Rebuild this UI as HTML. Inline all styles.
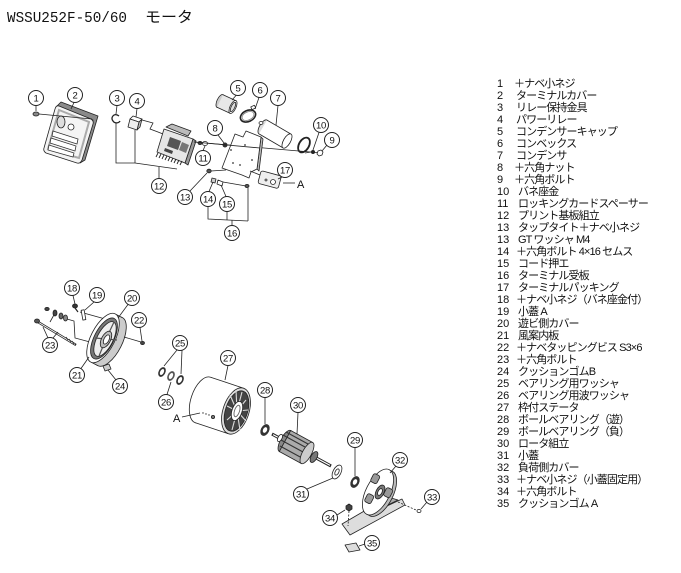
<!DOCTYPE html>
<html><head><meta charset="utf-8">
<style>
html,body{margin:0;padding:0;background:#fff;}
svg{display:block;}
.c circle{fill:#fff;stroke:#222;stroke-width:1;}
.c text{font-family:"Liberation Sans",sans-serif;font-size:9.5px;text-anchor:middle;fill:#111;letter-spacing:-0.3px;}
.l{stroke:#222;stroke-width:0.8;fill:none;}
.p{stroke:#222;stroke-width:0.8;stroke-linejoin:round;}
.list text{font-family:"Liberation Sans","Noto Sans CJK JP",sans-serif;font-size:11px;fill:#111;letter-spacing:-0.9px;}
.list text.n{letter-spacing:0;}
</style></head><body>
<svg width="681" height="573" viewBox="0 0 681 573" xmlns="http://www.w3.org/2000/svg">
<rect width="681" height="573" fill="#fff"/>
<text x="7" y="22" font-family="Liberation Mono, monospace" font-size="15" textLength="120" lengthAdjust="spacingAndGlyphs" fill="#111">WSSU252F-50/60</text>
<text x="145" y="22" font-family="Liberation Sans, 'Noto Sans CJK JP', sans-serif" font-size="15" textLength="48" lengthAdjust="spacingAndGlyphs" fill="#111">モータ</text>

<polygon class="p" points="57,106 61,102 98,116 85,160 80,163 93,120" fill="#8a8a8a"/>
<path class="p" d="M59,106 L91,119 Q94,121 93,124 L82,160 Q80,164 77,163 L46,153 Q43,151 44,148 L55,109 Q56,105 59,106 Z" fill="#f4f4f4" stroke-width="1.1"/>
<polygon points="59,110 89,122 79,158 48,149" stroke="#aaa" stroke-width="2" fill="none"/>
<ellipse class="p" cx="61" cy="122" rx="4" ry="6" fill="#ddd"/>
<circle class="p" cx="71" cy="127" r="3" fill="#fff"/>
<g stroke="#333" stroke-width="0.8" fill="#fff">
<polygon points="53,131 78,139 77,144 52,136"/>
<polygon points="51,138 76,146 75,151 50,143"/>
<polygon points="49,145 74,153 73,157 48,150"/>
</g>
<line class="l" x1="39" y1="114" x2="92" y2="119"/>
<ellipse class="p" cx="36" cy="114" rx="3" ry="2" fill="#888"/>
<path d="M119,116 C114,112 110,118 113,121 C115,124 119,123 120,121" stroke="#222" stroke-width="1.3" fill="none"/>
<polygon class="p" points="130,119 133,116 142,119 139,122" fill="#fff"/>
<polygon class="p" points="139,122 142,119 140,127 137,130" fill="#bbb"/>
<polygon class="p" points="130,119 139,122 137,130 128,127" fill="#eee"/>
<polyline class="l" points="142,120 153,123 150,129 158,132 163,134"/>
<polygon class="p" points="193,139 196,141 188,165 185,163" fill="#999"/>
<polygon class="p" points="164,129 193,139 185,163 157,152" fill="#e6e6e6"/>
<polygon class="p" points="166,127 172,124 191,131 188,136" fill="#bbb"/>
<polygon points="170,137 181,141 178,150 167,146" fill="#555"/>
<polygon points="182,142 189,145 186,153 179,150" fill="#777"/>
<polygon points="165,148 173,151 172,154 164,151" fill="#444"/>
<g stroke="#222" stroke-width="0.9">
<line x1="158" y1="153" x2="156" y2="157"/><line x1="161" y1="154" x2="159" y2="158"/>
<line x1="164" y1="155" x2="162" y2="159"/><line x1="167" y1="156" x2="165" y2="160"/>
<line x1="170" y1="157" x2="168" y2="161"/><line x1="173" y1="158" x2="171" y2="162"/>
<line x1="176" y1="159" x2="174" y2="163"/><line x1="179" y1="160" x2="177" y2="164"/>
<line x1="182" y1="161" x2="180" y2="165"/>
</g>
<polyline class="l" points="116,123 116,163 135,163 177,169"/>
<line class="l" x1="135" y1="130" x2="135" y2="163"/>
<line class="l" x1="159" y1="167" x2="159" y2="178"/>

<line class="l" x1="194" y1="142" x2="322" y2="153"/>
<ellipse class="p" cx="200" cy="143" rx="2" ry="1.6" fill="#444"/>
<ellipse class="p" cx="205" cy="143.5" rx="2.5" ry="2" fill="#fff"/>
<circle cx="225" cy="145" r="2.5" fill="#333"/>

<polygon class="p" points="261,137 263,139 259,171 257,169" fill="#bbb"/>
<path class="p" d="M235,134 L243,137 L246,131 L261,137 L257,169 L251,172 L249,178 L242,175 L222,168 Z" fill="#fff"/>
<line class="l" x1="194" y1="142" x2="260" y2="148"/>
<g fill="#333"><circle cx="231" cy="150" r="0.9"/><circle cx="245" cy="145" r="0.9"/><circle cx="240" cy="165" r="0.9"/><circle cx="233" cy="163" r="0.9"/><circle cx="252" cy="160" r="0.9"/></g>
<line class="l" x1="211" y1="171" x2="226" y2="170"/>
<ellipse class="p" cx="209" cy="171" rx="2.2" ry="1.8" fill="#555"/>
<path class="p" d="M212,178 l4,1 l-1,4 l-4,-1 Z" fill="#ccc"/>
<path class="p" d="M218,180 l5,2 l-1,4 l-5,-2 Z" fill="#fff"/>
<line class="l" x1="223" y1="182" x2="246" y2="186"/>
<ellipse class="p" cx="247" cy="186" rx="2" ry="1.6" fill="#555"/>
<polyline class="l" points="208,206 208,219 248,221"/>
<line class="l" x1="227" y1="211" x2="227" y2="220"/>
<line class="l" x1="248" y1="188" x2="248" y2="221"/>
<line class="l" x1="232" y1="220" x2="232" y2="225"/>

<ellipse class="p" cx="220" cy="101" rx="3" ry="7" transform="rotate(25 220 101)" fill="#ccc"/>
<polygon points="217,107.3 230,113.3 236,100.7 223,94.7" fill="#e8e8e8"/>
<line class="l" x1="217" y1="107.3" x2="230" y2="113.3"/><line class="l" x1="223" y1="94.7" x2="236" y2="100.7"/>
<ellipse class="p" cx="233" cy="107" rx="3" ry="7" transform="rotate(25 233 107)" fill="#fff"/>
<ellipse class="p" cx="233" cy="107" rx="1.8" ry="5.2" transform="rotate(25 233 107)" fill="#ddd"/>
<ellipse cx="248" cy="116" rx="8" ry="5.5" transform="rotate(-25 248 116)" fill="none" stroke="#222" stroke-width="1.6"/>
<ellipse cx="248" cy="116" rx="6.3" ry="4" transform="rotate(-25 248 116)" fill="none" stroke="#777" stroke-width="0.7"/>
<rect class="p" x="251" y="106" width="4" height="3" fill="#fff" transform="rotate(-25 253 107)"/>
<ellipse class="p" cx="263" cy="127" rx="3.5" ry="8" transform="rotate(30 263 127)" fill="#ddd"/>
<polygon points="259,133.9 283,147.9 291,134.1 267,120.1" fill="#fff"/>
<line class="l" x1="259" y1="133.9" x2="283" y2="147.9"/><line class="l" x1="267" y1="120.1" x2="291" y2="134.1"/>
<ellipse class="p" cx="287" cy="141" rx="3.5" ry="8" transform="rotate(30 287 141)" fill="#fff"/>
<ellipse class="p" cx="261" cy="123" rx="2" ry="1.5" fill="#fff"/>
<ellipse cx="304" cy="145" rx="5" ry="8" transform="rotate(30 304 145)" fill="none" stroke="#222" stroke-width="1.8"/>
<line class="l" x1="305" y1="153" x2="311" y2="152"/>
<circle cx="313" cy="152" r="2" fill="#222"/>
<polygon class="p" points="318,151 321,150 323,152 322,155 319,156 317,154" fill="#fff"/>
<line class="l" x1="250" y1="171" x2="260" y2="175"/>
<rect class="p" x="259" y="173" width="21" height="13" rx="2" transform="rotate(15 269 180)" fill="#eee"/>
<circle class="p" cx="266" cy="180" r="1" fill="#fff"/>
<circle class="p" cx="273" cy="182" r="2.5" fill="#fff"/>
<line class="l" x1="283" y1="183" x2="295" y2="183"/>
<text x="297" y="188" font-family="Liberation Sans, sans-serif" font-size="11" fill="#111">A</text>

<g class="l">
<line x1="36" y1="105.5" x2="36" y2="111"/>
<line x1="74" y1="102.5" x2="71" y2="109"/>
<line x1="117" y1="105.5" x2="116" y2="114"/>
<line x1="137" y1="108.5" x2="136" y2="117"/>
<line x1="236" y1="95.5" x2="232" y2="100"/>
<line x1="259" y1="97.5" x2="255" y2="109"/>
<line x1="278" y1="105.5" x2="276" y2="125"/>
<line x1="218" y1="135" x2="224" y2="143"/>
<line x1="203" y1="150.5" x2="205" y2="146"/>
<line x1="319" y1="132.5" x2="313" y2="150"/>
<line x1="327" y1="145" x2="322" y2="151"/>
<line x1="282" y1="177" x2="278" y2="179"/>
<line x1="190" y1="191" x2="207" y2="173"/>
<line x1="209" y1="191.5" x2="213" y2="182"/>
<line x1="226" y1="196.5" x2="221" y2="185"/>
</g>

<line x1="38" y1="322" x2="76" y2="345" stroke="#222" stroke-width="2.4"/>
<line x1="39" y1="322.6" x2="75" y2="344.4" stroke="#fff" stroke-width="0.8"/>
<g stroke="#222" stroke-width="0.7"><line x1="66" y1="337" x2="68" y2="340"/><line x1="69" y1="339" x2="71" y2="342"/><line x1="72" y1="341" x2="74" y2="344"/></g>
<ellipse class="p" cx="37" cy="321" rx="2.5" ry="2" fill="#555"/>
<ellipse class="p" cx="47" cy="309" rx="2.2" ry="1.6" fill="#444"/>
<line class="l" x1="55" y1="313" x2="50" y2="322"/>
<ellipse class="p" cx="55" cy="313" rx="2" ry="3" fill="#444"/>
<ellipse class="p" cx="61" cy="316" rx="2" ry="3" fill="#666"/>
<ellipse class="p" cx="65.5" cy="318" rx="2" ry="3" fill="#888"/>
<polyline class="l" points="67,319 74,321 75,338 90,342"/>
<line class="l" x1="80" y1="312" x2="116" y2="322"/>
<ellipse class="p" cx="75" cy="306" rx="2.5" ry="2" fill="#333"/>
<line x1="75" y1="308" x2="78" y2="312" stroke="#222" stroke-width="1.2"/>
<rect class="p" x="82" y="310" width="3" height="10" fill="#fff" transform="rotate(-10 83 315)"/>
<ellipse class="p" cx="110" cy="341.6" rx="12" ry="27" transform="rotate(27 110 341.6)" fill="#ccc"/>
<polygon points="115.2,314 122.2,317.6 97.8,365.6 90.8,362" fill="#ccc" stroke="none"/>
<line class="l" x1="115.2" y1="314" x2="122.2" y2="317.6"/>
<line class="l" x1="90.8" y1="362" x2="97.8" y2="365.6"/>
<ellipse class="p" cx="103" cy="338" rx="12" ry="27" transform="rotate(27 103 338)" fill="#fff"/>
<ellipse class="p" cx="104" cy="338.5" rx="9.8" ry="22.5" transform="rotate(27 104 338.5)" fill="#777"/>
<ellipse class="p" cx="105" cy="339" rx="8" ry="19" transform="rotate(27 105 339)" fill="#eee"/>
<g stroke="#555" stroke-width="1.2">
<line x1="106" y1="339" x2="114" y2="322"/><line x1="106" y1="339" x2="117" y2="340"/>
<line x1="106" y1="339" x2="99" y2="356"/><line x1="106" y1="339" x2="95" y2="338"/>
</g>
<ellipse class="p" cx="106" cy="339.5" rx="4.5" ry="9" transform="rotate(27 106 339.5)" fill="#bbb"/>
<ellipse class="p" cx="106.5" cy="339.5" rx="2.5" ry="5" transform="rotate(27 106.5 339.5)" fill="#fff"/>
<line class="l" x1="124" y1="337" x2="141" y2="342"/>
<ellipse class="p" cx="142.5" cy="343" rx="2" ry="1.6" fill="#444"/>
<polygon class="p" points="103,366 109,364 111,369 105,371" fill="#ccc"/>
<ellipse cx="162" cy="372" rx="3.4" ry="5.2" transform="rotate(27 162 372)" fill="#333"/>
<ellipse cx="162" cy="372" rx="1.8" ry="3.2" transform="rotate(27 162 372)" fill="#fff"/>
<ellipse cx="171" cy="376" rx="3.4" ry="5.2" transform="rotate(27 171 376)" fill="#555"/>
<ellipse cx="171" cy="376" rx="1.8" ry="3.2" transform="rotate(27 171 376)" fill="#fff"/>
<ellipse cx="180" cy="380" rx="3.4" ry="5.2" transform="rotate(27 180 380)" fill="#333"/>
<ellipse cx="180" cy="380" rx="1.8" ry="3.2" transform="rotate(27 180 380)" fill="#fff"/>

<ellipse class="p" cx="203" cy="400" rx="12" ry="24" transform="rotate(18.4 203 400)" fill="#fff"/>
<polygon points="210.6,377.2 243.6,388.2 228.4,433.8 195.4,422.8" fill="#fff"/>
<line class="l" x1="210.6" y1="377.2" x2="243.6" y2="388.2"/>
<line class="l" x1="195.4" y1="422.8" x2="228.4" y2="433.8"/>
<ellipse class="p" cx="236" cy="411" rx="13" ry="24" transform="rotate(18.4 236 411)" fill="#ddd"/>
<ellipse class="p" cx="236.5" cy="411" rx="11" ry="21" transform="rotate(18.4 236.5 411)" fill="#444"/>
<g stroke="#ddd" stroke-width="1.1">
<line x1="237" y1="411" x2="242" y2="392"/><line x1="237" y1="411" x2="246" y2="400"/>
<line x1="237" y1="411" x2="248" y2="410"/><line x1="237" y1="411" x2="246" y2="421"/>
<line x1="237" y1="411" x2="240" y2="430"/><line x1="237" y1="411" x2="232" y2="430"/>
<line x1="237" y1="411" x2="227" y2="420"/><line x1="237" y1="411" x2="227" y2="406"/>
<line x1="237" y1="411" x2="230" y2="395"/><line x1="237" y1="411" x2="236" y2="390"/>
</g>
<ellipse class="p" cx="237" cy="411" rx="5" ry="10" transform="rotate(18.4 237 411)" fill="#fff"/>
<ellipse cx="237" cy="411" rx="2.5" ry="6" transform="rotate(18.4 237 411)" fill="none" stroke="#666" stroke-width="0.9"/>
<g fill="#333"><circle cx="203" cy="413" r="0.7"/><circle cx="206" cy="414" r="0.7"/><circle cx="209" cy="415" r="0.7"/></g>
<circle class="p" cx="213" cy="417" r="1.6" fill="#777"/>
<line class="l" x1="182" y1="417" x2="200" y2="413"/>
<text x="173" y="422" font-family="Liberation Sans, sans-serif" font-size="11" fill="#111">A</text>
<ellipse cx="265" cy="430" rx="4.2" ry="6.2" transform="rotate(27 265 430)" fill="#333"/>
<ellipse cx="265" cy="430" rx="2" ry="3" transform="rotate(27 265 430)" fill="#fff"/>
<line x1="272" y1="434" x2="331" y2="466" stroke="#222" stroke-width="3"/>
<line x1="273" y1="434.6" x2="330" y2="465.4" stroke="#fff" stroke-width="1.2"/>
<ellipse class="p" cx="285" cy="441" rx="4.5" ry="12" transform="rotate(28.6 285 441)" fill="#888"/>
<polygon class="p" points="279.3,451.5 301.3,463.5 312.7,442.5 290.7,430.5" fill="#aaa"/>
<g stroke="#333" stroke-width="1.1">
<line x1="283" y1="435" x2="305" y2="447"/><line x1="281" y1="440" x2="303" y2="452"/>
<line x1="280" y1="446" x2="302" y2="458"/><line x1="286" y1="432" x2="308" y2="444"/>
</g>
<ellipse class="p" cx="307" cy="453" rx="4.5" ry="12" transform="rotate(28.6 307 453)" fill="#ccc"/>
<ellipse class="p" cx="314" cy="457" rx="3" ry="6" transform="rotate(28.6 314 457)" fill="#777"/>
<ellipse class="p" cx="280" cy="438" rx="2" ry="4" transform="rotate(28.6 280 438)" fill="#fff"/>
<ellipse class="p" cx="337" cy="472" rx="4" ry="7.5" transform="rotate(27 337 472)" fill="#fff"/>
<ellipse class="p" cx="337" cy="472" rx="1.8" ry="3.4" transform="rotate(27 337 472)" fill="#fff"/>
<ellipse cx="355" cy="482" rx="4.2" ry="6.2" transform="rotate(27 355 482)" fill="#333"/>
<ellipse cx="355" cy="482" rx="2" ry="3" transform="rotate(27 355 482)" fill="#fff"/>
<polygon class="p" points="342,524 350,535 405,505 402,499 372,513 366,510" fill="#ddd"/>
<polygon class="p" points="366,511 372,513 398,500 388,497" fill="#aaa"/>
<ellipse class="p" cx="381" cy="493.5" rx="12" ry="25" transform="rotate(27 381 493.5)" fill="#bbb"/>
<ellipse class="p" cx="378" cy="492" rx="12" ry="25" transform="rotate(27 378 492)" fill="#fff"/>
<rect class="p" x="372" y="474" width="7" height="9" rx="2" fill="#999" transform="rotate(27 375 478)"/>
<rect class="p" x="366" y="494" width="7" height="9" rx="2" fill="#999" transform="rotate(27 369 498)"/>
<rect class="p" x="385" y="488" width="7" height="9" rx="2" fill="#999" transform="rotate(27 388 492)"/>
<ellipse class="p" cx="380" cy="492" rx="4" ry="7.5" transform="rotate(27 380 492)" fill="#777"/>
<ellipse class="p" cx="380" cy="492" rx="2" ry="3.6" transform="rotate(27 380 492)" fill="#fff"/>
<line x1="398" y1="502" x2="416" y2="510" stroke="#222" stroke-width="0.8" stroke-dasharray="2,1.5"/>
<ellipse class="p" cx="419" cy="511" rx="2" ry="1.6" fill="#fff"/>
<line x1="349" y1="511" x2="348" y2="526" stroke="#222" stroke-width="0.8" stroke-dasharray="2,1.5"/>
<polygon class="p" points="346,506 349,504 352,506 352,509 349,511 346,509" fill="#444"/>
<polygon class="p" points="345,545 356,543 360,550 349,552" fill="#ddd"/>

<g class="l">
<line x1="73" y1="295.5" x2="75" y2="304"/>
<line x1="94" y1="302" x2="85" y2="310"/>
<line x1="128" y1="304.5" x2="118" y2="318"/>
<line x1="140" y1="327.5" x2="142" y2="341"/>
<line x1="48" y1="338" x2="43" y2="327"/>
<line x1="53" y1="338" x2="58" y2="332"/>
<line x1="81" y1="368.5" x2="89" y2="357"/>
<line x1="116" y1="380" x2="108" y2="370"/>
<line x1="177" y1="350" x2="164" y2="366"/>
<line x1="182" y1="350.5" x2="181" y2="374"/>
<line x1="167" y1="394.5" x2="171" y2="382"/>
<line x1="228" y1="365.5" x2="225" y2="380"/>
<line x1="265" y1="397.5" x2="265" y2="424"/>
<line x1="298" y1="412.5" x2="297" y2="434"/>
<line x1="307" y1="489" x2="333" y2="478"/>
<line x1="355" y1="447.5" x2="355" y2="476"/>
<line x1="396" y1="466" x2="390" y2="473"/>
<line x1="427" y1="502" x2="421" y2="509"/>
<line x1="337" y1="515" x2="345" y2="510"/>
<line x1="365" y1="544" x2="359" y2="546"/>
</g>

<g class="c">
<circle cx="36" cy="98" r="7.5"/><text x="36" y="101.4">1</text>
<circle cx="75" cy="95" r="7.5"/><text x="75" y="98.4">2</text>
<circle cx="117" cy="98" r="7.5"/><text x="117" y="101.4">3</text>
<circle cx="137" cy="101" r="7.5"/><text x="137" y="104.4">4</text>
<circle cx="238" cy="88" r="7.5"/><text x="238" y="91.4">5</text>
<circle cx="260" cy="90" r="7.5"/><text x="260" y="93.4">6</text>
<circle cx="278" cy="98" r="7.5"/><text x="278" y="101.4">7</text>
<circle cx="215" cy="128" r="7.5"/><text x="215" y="131.4">8</text>
<circle cx="332" cy="140" r="7.5"/><text x="332" y="143.4">9</text>
<circle cx="321" cy="125" r="7.5"/><text x="321" y="128.4">10</text>
<circle cx="203" cy="158" r="7.5"/><text x="203" y="161.4">11</text>
<circle cx="159" cy="186" r="7.5"/><text x="159" y="189.4">12</text>
<circle cx="185" cy="197" r="7.5"/><text x="185" y="200.4">13</text>
<circle cx="208" cy="199" r="7.5"/><text x="208" y="202.4">14</text>
<circle cx="227" cy="204" r="7.5"/><text x="227" y="207.4">15</text>
<circle cx="232" cy="233" r="7.5"/><text x="232" y="236.4">16</text>
<circle cx="285" cy="170" r="7.5"/><text x="285" y="173.4">17</text>
<circle cx="72" cy="288" r="7.5"/><text x="72" y="291.4">18</text>
<circle cx="97" cy="295" r="7.5"/><text x="97" y="298.4">19</text>
<circle cx="132" cy="298" r="7.5"/><text x="132" y="301.4">20</text>
<circle cx="77" cy="375" r="7.5"/><text x="77" y="378.4">21</text>
<circle cx="139" cy="320" r="7.5"/><text x="139" y="323.4">22</text>
<circle cx="50" cy="345" r="7.5"/><text x="50" y="348.4">23</text>
<circle cx="120" cy="386" r="7.5"/><text x="120" y="389.4">24</text>
<circle cx="180" cy="343" r="7.5"/><text x="180" y="346.4">25</text>
<circle cx="166" cy="402" r="7.5"/><text x="166" y="405.4">26</text>
<circle cx="228" cy="358" r="7.5"/><text x="228" y="361.4">27</text>
<circle cx="265" cy="390" r="7.5"/><text x="265" y="393.4">28</text>
<circle cx="355" cy="440" r="7.5"/><text x="355" y="443.4">29</text>
<circle cx="298" cy="405" r="7.5"/><text x="298" y="408.4">30</text>
<circle cx="301" cy="494" r="7.5"/><text x="301" y="497.4">31</text>
<circle cx="400" cy="460" r="7.5"/><text x="400" y="463.4">32</text>
<circle cx="432" cy="497" r="7.5"/><text x="432" y="500.4">33</text>
<circle cx="330" cy="518" r="7.5"/><text x="330" y="521.4">34</text>
<circle cx="372" cy="543" r="7.5"/><text x="372" y="546.4">35</text>
</g>

<g class="list">
<text class="n" x="497" y="87">1</text><text x="514" y="87">＋ナベ小ネジ</text>
<text class="n" x="497" y="99">2</text><text x="516" y="99">ターミナルカバー</text>
<text class="n" x="497" y="111">3</text><text x="516" y="111">リレー保持金具</text>
<text class="n" x="497" y="123">4</text><text x="516" y="123">パワーリレー</text>
<text class="n" x="497" y="135">5</text><text x="516" y="135">コンデンサーキャップ</text>
<text class="n" x="497" y="147">6</text><text x="516" y="147">コンベックス</text>
<text class="n" x="497" y="159">7</text><text x="516" y="159">コンデンサ</text>
<text class="n" x="497" y="171">8</text><text x="514" y="171">＋六角ナット</text>
<text class="n" x="497" y="183">9</text><text x="514" y="183">＋六角ボルト</text>
<text class="n" x="497" y="195">10</text><text x="518" y="195">バネ座金</text>
<text class="n" x="497" y="207">11</text><text x="518" y="207">ロッキングカードスペーサー</text>
<text class="n" x="497" y="219">12</text><text x="518" y="219">プリント基板組立</text>
<text class="n" x="497" y="231">13</text><text x="518" y="231">タップタイト＋ナベ小ネジ</text>
<text class="n" x="497" y="243">13</text><text x="518" y="243">GT ワッシャ M4</text>
<text class="n" x="497" y="255">14</text><text x="516" y="255">＋六角ボルト 4×16 セムス</text>
<text class="n" x="497" y="267">15</text><text x="518" y="267">コード押エ</text>
<text class="n" x="497" y="279">16</text><text x="518" y="279">ターミナル受板</text>
<text class="n" x="497" y="291">17</text><text x="518" y="291">ターミナルパッキング</text>
<text class="n" x="497" y="303">18</text><text x="516" y="303">＋ナベ小ネジ（バネ座金付）</text>
<text class="n" x="497" y="315">19</text><text x="518" y="315">小蓋 A</text>
<text class="n" x="497" y="327">20</text><text x="518" y="327">遊ビ側カバー</text>
<text class="n" x="497" y="339">21</text><text x="518" y="339">風案内板</text>
<text class="n" x="497" y="351">22</text><text x="516" y="351">＋ナベタッピングビス S3×6</text>
<text class="n" x="497" y="363">23</text><text x="516" y="363">＋六角ボルト</text>
<text class="n" x="497" y="375">24</text><text x="518" y="375">クッションゴムB</text>
<text class="n" x="497" y="387">25</text><text x="518" y="387">ベアリング用ワッシャ</text>
<text class="n" x="497" y="399">26</text><text x="518" y="399">ベアリング用波ワッシャ</text>
<text class="n" x="497" y="411">27</text><text x="518" y="411">枠付ステータ</text>
<text class="n" x="497" y="423">28</text><text x="518" y="423">ボールベアリング（遊）</text>
<text class="n" x="497" y="435">29</text><text x="518" y="435">ボールベアリング（負）</text>
<text class="n" x="497" y="447">30</text><text x="518" y="447">ロータ組立</text>
<text class="n" x="497" y="459">31</text><text x="518" y="459">小蓋</text>
<text class="n" x="497" y="471">32</text><text x="518" y="471">負荷側カバー</text>
<text class="n" x="497" y="483">33</text><text x="516" y="483">＋ナベ小ネジ（小蓋固定用）</text>
<text class="n" x="497" y="495">34</text><text x="516" y="495">＋六角ボルト</text>
<text class="n" x="497" y="507">35</text><text x="518" y="507">クッションゴム A</text>
</g>
</svg>
</body></html>
